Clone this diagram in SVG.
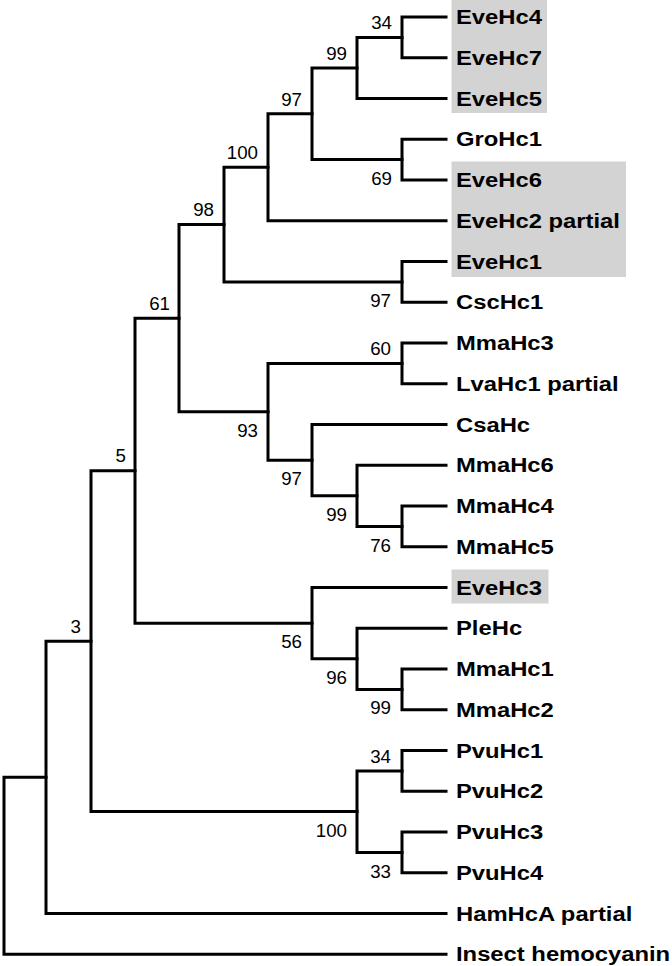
<svg xmlns="http://www.w3.org/2000/svg" width="672" height="966" viewBox="0 0 672 966">
<style>
.bg{fill:#ffffff}
.hl{fill:#d3d3d3}
.br{fill:none;stroke:#000;stroke-width:3;stroke-linejoin:miter;stroke-linecap:square}
.leaf{font-family:"Liberation Sans",Arial,sans-serif;font-weight:bold;font-size:20px;fill:#000}
.bs{font-family:"Liberation Sans",Arial,sans-serif;font-size:18px;fill:#000;text-anchor:end}
</style>
<rect class="bg" x="0" y="0" width="672" height="966"/>
<g id="highlights">
<rect class="hl" x="451.5" y="-1" width="95.5" height="114"/>
<rect class="hl" x="451.5" y="161.5" width="174.5" height="115.5"/>
<rect class="hl" x="451.5" y="569.5" width="97" height="34"/>
</g>
<g id="connectors">
<path class="br" d="M446 17H402V57.75H446"/>
<path class="br" d="M402 37.4H357V98.5H446"/>
<path class="br" d="M446 139.25H402V180H446"/>
<path class="br" d="M357 67.9H312V159.6H402"/>
<path class="br" d="M312 113.8H268V220.75H446"/>
<path class="br" d="M446 261.5H402V302.25H446"/>
<path class="br" d="M268 167.3H224V281.9H402"/>
<path class="br" d="M446 343H402V383.75H446"/>
<path class="br" d="M446 506H402V546.75H446"/>
<path class="br" d="M446 465.25H357V526.4H402"/>
<path class="br" d="M446 424.5H312V495.8H357"/>
<path class="br" d="M402 363.4H268V460.2H312"/>
<path class="br" d="M224 224.6H179V411.8H268"/>
<path class="br" d="M446 669H402V709.75H446"/>
<path class="br" d="M446 628.25H357V689.4H402"/>
<path class="br" d="M446 587.5H312V658.8H357"/>
<path class="br" d="M179 318.2H135V623.2H312"/>
<path class="br" d="M446 750.5H402V791.25H446"/>
<path class="br" d="M446 832H402V872.75H446"/>
<path class="br" d="M402 770.9H357V852.4H402"/>
<path class="br" d="M135 470.7H91V811.6H357"/>
<path class="br" d="M91 641.2H46V913.5H446"/>
<path class="br" d="M46 777.3H4V954.25H446"/>
</g>
<g id="nodeA"><text class="bs" transform="translate(392,29) scale(1.04,1)">34</text></g>
<g id="nodeB"><text class="bs" transform="translate(347,59.5) scale(1.04,1)">99</text></g>
<g id="nodeC"><text class="bs" transform="translate(392,184.6) scale(1.04,1)">69</text></g>
<g id="nodeD"><text class="bs" transform="translate(302,105.5) scale(1.04,1)">97</text></g>
<g id="nodeE"><text class="bs" transform="translate(258,159) scale(1.04,1)">100</text></g>
<g id="nodeF"><text class="bs" transform="translate(391,307) scale(1.04,1)">97</text></g>
<g id="nodeG"><text class="bs" transform="translate(214,216) scale(1.04,1)">98</text></g>
<g id="nodeH"><text class="bs" transform="translate(391,355) scale(1.04,1)">60</text></g>
<g id="nodeI"><text class="bs" transform="translate(391,551.5) scale(1.04,1)">76</text></g>
<g id="nodeJ"><text class="bs" transform="translate(347,521) scale(1.04,1)">99</text></g>
<g id="nodeK"><text class="bs" transform="translate(302,485) scale(1.04,1)">97</text></g>
<g id="nodeL"><text class="bs" transform="translate(258,437) scale(1.04,1)">93</text></g>
<g id="nodeM"><text class="bs" transform="translate(170,310) scale(1.04,1)">61</text></g>
<g id="nodeN"><text class="bs" transform="translate(391,714) scale(1.04,1)">99</text></g>
<g id="nodeO"><text class="bs" transform="translate(347,684) scale(1.04,1)">96</text></g>
<g id="nodeP"><text class="bs" transform="translate(302,648) scale(1.04,1)">56</text></g>
<g id="nodeQ"><text class="bs" transform="translate(126,462) scale(1.04,1)">5</text></g>
<g id="nodeR"><text class="bs" transform="translate(391,762.5) scale(1.04,1)">34</text></g>
<g id="nodeS"><text class="bs" transform="translate(391,877.5) scale(1.04,1)">33</text></g>
<g id="nodeT"><text class="bs" transform="translate(347,836.5) scale(1.04,1)">100</text></g>
<g id="nodeU"><text class="bs" transform="translate(81,633) scale(1.04,1)">3</text></g>
<g id="leaf-EveHc4"><text class="leaf" transform="translate(456,24) scale(1.19,1)">EveHc4</text></g>
<g id="leaf-EveHc7"><text class="leaf" transform="translate(456,64.75) scale(1.19,1)">EveHc7</text></g>
<g id="leaf-EveHc5"><text class="leaf" transform="translate(456,105.5) scale(1.19,1)">EveHc5</text></g>
<g id="leaf-GroHc1"><text class="leaf" transform="translate(456,146.25) scale(1.19,1)">GroHc1</text></g>
<g id="leaf-EveHc6"><text class="leaf" transform="translate(456,187) scale(1.19,1)">EveHc6</text></g>
<g id="leaf-EveHc2"><text class="leaf" transform="translate(456,227.75) scale(1.19,1)">EveHc2 partial</text></g>
<g id="leaf-EveHc1"><text class="leaf" transform="translate(456,268.5) scale(1.19,1)">EveHc1</text></g>
<g id="leaf-CscHc1"><text class="leaf" transform="translate(456,309.25) scale(1.19,1)">CscHc1</text></g>
<g id="leaf-MmaHc3"><text class="leaf" transform="translate(456,350) scale(1.19,1)">MmaHc3</text></g>
<g id="leaf-LvaHc1"><text class="leaf" transform="translate(456,390.75) scale(1.19,1)">LvaHc1 partial</text></g>
<g id="leaf-CsaHc"><text class="leaf" transform="translate(456,431.5) scale(1.19,1)">CsaHc</text></g>
<g id="leaf-MmaHc6"><text class="leaf" transform="translate(456,472.25) scale(1.19,1)">MmaHc6</text></g>
<g id="leaf-MmaHc4"><text class="leaf" transform="translate(456,513) scale(1.19,1)">MmaHc4</text></g>
<g id="leaf-MmaHc5"><text class="leaf" transform="translate(456,553.75) scale(1.19,1)">MmaHc5</text></g>
<g id="leaf-EveHc3"><text class="leaf" transform="translate(456,594.5) scale(1.19,1)">EveHc3</text></g>
<g id="leaf-PleHc"><text class="leaf" transform="translate(456,635.25) scale(1.19,1)">PleHc</text></g>
<g id="leaf-MmaHc1"><text class="leaf" transform="translate(456,676) scale(1.19,1)">MmaHc1</text></g>
<g id="leaf-MmaHc2"><text class="leaf" transform="translate(456,716.75) scale(1.19,1)">MmaHc2</text></g>
<g id="leaf-PvuHc1"><text class="leaf" transform="translate(456,757.5) scale(1.19,1)">PvuHc1</text></g>
<g id="leaf-PvuHc2"><text class="leaf" transform="translate(456,798.25) scale(1.19,1)">PvuHc2</text></g>
<g id="leaf-PvuHc3"><text class="leaf" transform="translate(456,839) scale(1.19,1)">PvuHc3</text></g>
<g id="leaf-PvuHc4"><text class="leaf" transform="translate(456,879.75) scale(1.19,1)">PvuHc4</text></g>
<g id="leaf-HamHcA"><text class="leaf" transform="translate(456,920.5) scale(1.19,1)">HamHcA partial</text></g>
<g id="leaf-Insect"><text class="leaf" transform="translate(456,961.25) scale(1.19,1)">Insect hemocyanin</text></g>
</svg>
